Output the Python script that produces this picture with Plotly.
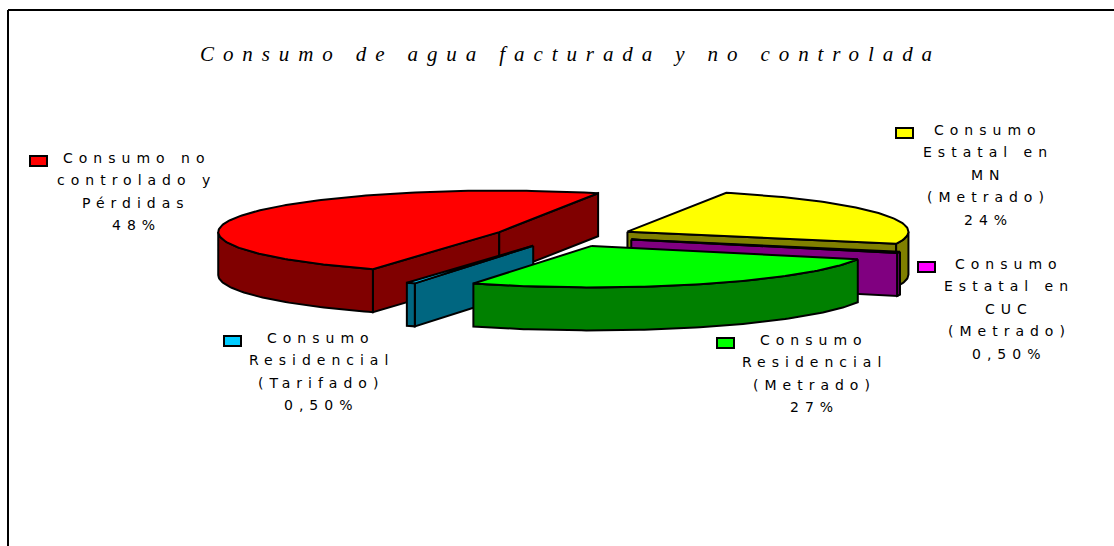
import math
import plotly.graph_objects as go

TITLE = "Consumo de agua facturada y no controlada"
CATEGORIES = ["Consumo Estatal en MN (Metrado)", "Consumo Estatal en CUC (Metrado)",
              "Consumo Residencial (Metrado)", "Consumo Residencial (Tarifado)",
              "Consumo no controlado y Pérdidas"]
VALUES = [24, 0.5, 26.7, 0.5, 48.3]
VALUE_LABELS = ["24%", "0,50%", "27%", "0,50%", "48%"]
LABEL_LINES = [["Consumo", "Estatal en", "MN", "(Metrado)"],
               ["Consumo", "Estatal en", "CUC", "(Metrado)"],
               ["Consumo", "Residencial", "(Metrado)"],
               ["Consumo", "Residencial", "(Tarifado)"],
               ["Consumo no", "controlado y", "Pérdidas"]]
TOP_COLORS = ["#ffff00", "#ff00ff", "#00ff00", "#00ccff", "#ff0000"]
SIDE_COLORS = ["#808000", "#800080", "#008000", "#006680", "#800000"]
DRAW_ORDER = [4, 0, 1, 3, 2]

# projected pie geometry, in the pixel-sized axes
CX, CY, RX, RY, DEPTH, EXPLODE, START = 564, 236.3, 281, 41.5, 43, 70.7, 20.6
# label placement: centre x, first line y, swatch x, swatch y
LABEL_POS = [(988, 130, 896, 128), (1009, 264, 918, 262), (814, 340, 717, 338),
             (321, 338, 224, 336), (136, 158, 30, 156)]
LINE_STEP = 22.4

fig = go.Figure()


def pt(x0, y0, deg):
    r = math.radians(deg)
    return x0 + RX * math.sin(r), y0 - RY * math.cos(r)


def arc(x0, y0, a0, a1):
    n = max(2, int(abs(a1 - a0)) + 2)
    return [pt(x0, y0, a0 + (a1 - a0) * i / (n - 1)) for i in range(n)]


def poly(points, color, name):
    xs = [p[0] for p in points] + [points[0][0]]
    ys = [p[1] for p in points] + [points[0][1]]
    fig.add_trace(go.Scatter(x=xs, y=ys, mode="lines", fill="toself", fillcolor=color,
                             line=dict(color="black", width=2), name=name,
                             hoverinfo="name", showlegend=False))


total = sum(VALUES)
spans = []
a = START
for v in VALUES:
    spans.append((a, a + 360 * v / total))
    a = spans[-1][1]

for i in DRAW_ORDER:
    a0, a1 = spans[i]
    mid = math.radians((a0 + a1) / 2)
    x0 = CX + EXPLODE * math.sin(mid)
    y0 = CY - EXPLODE * RY / RX * math.cos(mid)
    side, top, name = SIDE_COLORS[i], TOP_COLORS[i], CATEGORIES[i]
    for ang, visible in ((a0, math.sin(math.radians(a0)) < 0), (a1, math.sin(math.radians(a1)) > 0)):
        if visible:
            p = pt(x0, y0, ang)
            poly([(x0, y0), p, (p[0], p[1] + DEPTH), (x0, y0 + DEPTH)], side, name)
    lo, hi = max(a0, 90), min(a1, 270)
    if hi > lo:
        upper = arc(x0, y0, lo, hi)
        poly(upper + [(x, y + DEPTH) for x, y in reversed(upper)], side, name)
    poly([(x0, y0)] + arc(x0, y0, a0, a1), top, name)


def spaced(text, px):
    return f'<span style="letter-spacing:{px}px">{text}</span>'


annotations = [dict(x=570, y=54, xref="x", yref="y", showarrow=False, xanchor="center", yanchor="middle",
                    text=spaced(f"<i>{TITLE}</i>", 8.9),
                    font=dict(family="Liberation Serif", size=21, color="black"))]
shapes = [dict(type="line", x0=8, x1=1114, y0=10, y1=10, line=dict(color="black", width=2)),
          dict(type="line", x0=8, x1=8, y0=10, y1=546, line=dict(color="black", width=2))]

for i, (cx, y, sx, sy) in enumerate(LABEL_POS):
    for j, line in enumerate(LABEL_LINES[i] + [VALUE_LABELS[i]]):
        annotations.append(dict(x=cx, y=y + j * LINE_STEP, xref="x", yref="y", showarrow=False,
                                xanchor="center", yanchor="middle", text=spaced(line, 6.0),
                                font=dict(family="DejaVu Sans", size=14, color="black")))
    shapes.append(dict(type="rect", x0=sx, x1=sx + 17, y0=sy, y1=sy + 10, fillcolor=TOP_COLORS[i],
                       line=dict(color="black", width=2)))

fig.update_layout(width=1114, height=546, margin=dict(l=0, r=0, t=0, b=0),
                  paper_bgcolor="white", plot_bgcolor="white", showlegend=False,
                  xaxis=dict(range=[0, 1114], visible=False, fixedrange=True),
                  yaxis=dict(range=[546, 0], visible=False, fixedrange=True),
                  annotations=annotations, shapes=shapes)
fig.write_html("out.html", config=dict(displayModeBar=False),
               post_script="document.body.style.margin='0';document.body.style.overflow='hidden';")
